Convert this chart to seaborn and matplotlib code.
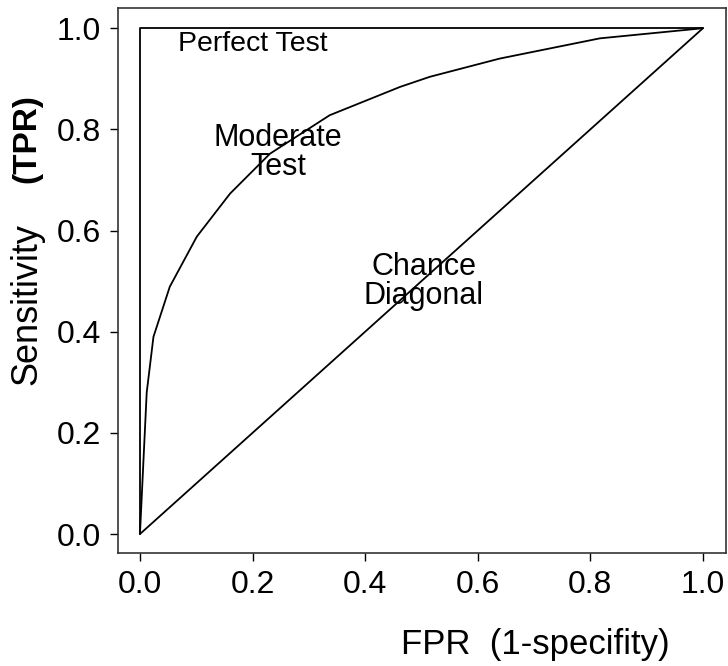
import matplotlib
matplotlib.use("Agg")
import matplotlib.pyplot as plt
import seaborn as sns

# ---- data ----
perfect_fpr = [0.0, 0.0, 1.0]
perfect_tpr = [0.0, 1.0, 1.0]
chance_fpr = [0.0, 1.0]
chance_tpr = [0.0, 1.0]
moderate_fpr = [0.0, 0.012, 0.024, 0.053, 0.101, 0.160, 0.231, 0.337, 0.462, 0.515, 0.639, 0.817, 1.0]
moderate_tpr = [0.0, 0.28, 0.39, 0.489, 0.588, 0.673, 0.752, 0.828, 0.884, 0.904, 0.94, 0.98, 1.0]
ticks = [0.0, 0.2, 0.4, 0.6, 0.8, 1.0]
tick_labels = ["0.0", "0.2", "0.4", "0.6", "0.8", "1.0"]

sns.set_style("ticks")
plt.rcParams["font.family"] = ["Liberation Sans", "DejaVu Sans"]
plt.rcParams["text.color"] = "black"

fig = plt.figure(figsize=(7.28, 6.66), dpi=100)
ax = fig.add_axes([118 / 728, 113 / 666, 608 / 728, 545 / 666])

lw = 1.3
sns.lineplot(x=perfect_fpr, y=perfect_tpr, sort=False, estimator=None, color="black", lw=lw, ax=ax)
sns.lineplot(x=chance_fpr, y=chance_tpr, sort=False, estimator=None, color="black", lw=lw, ax=ax)
sns.lineplot(x=moderate_fpr, y=moderate_tpr, sort=False, estimator=None, color="black", lw=lw, ax=ax)

ax.set_xlim(-0.039, 1.041)
ax.set_ylim(-0.0375, 1.04)
ax.set_xticks(ticks)
ax.set_xticklabels(tick_labels)
ax.set_yticks(ticks)
ax.set_yticklabels(tick_labels)
ax.tick_params(axis="both", labelsize=23, length=6, width=1, color="black", labelcolor="black", pad=6)
for s in ax.spines.values():
    s.set_color("#333333")
    s.set_linewidth(1.2)

ax.text(0.20, 0.968, "Perfect Test", ha="center", va="center", fontsize=20.5, color="black")
ax.text(0.245, 0.755, "Moderate\nTest", ha="center", va="center", fontsize=22, linespacing=0.95, color="black")
ax.text(0.504, 0.50, "Chance\nDiagonal", ha="center", va="center", fontsize=22, linespacing=0.95, color="black")

ax.set_xlabel("")
ax.set_ylabel("")
ax.text(0.686, -0.168, "FPR  (1-specifity)", transform=ax.transAxes, ha="center", va="center", fontsize=25, color="black")
ax.text(-0.15, 0.308, "Sensitivity", transform=ax.transAxes, rotation=90, ha="center", va="bottom", fontsize=26, color="black")
ax.text(-0.15, 0.679, "(TPR)", transform=ax.transAxes, rotation=90, ha="center", va="bottom", fontsize=24, fontweight="bold", color="black")

fig.savefig("out.png", dpi=100)
